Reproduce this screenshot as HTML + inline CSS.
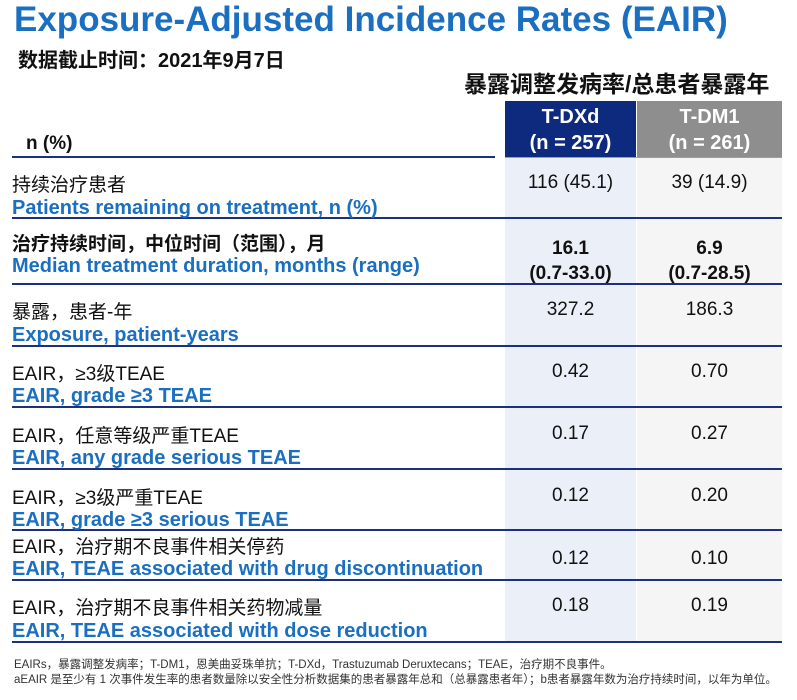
<!DOCTYPE html><html><head><meta charset="utf-8"><style>
body{margin:0;width:797px;height:700px;background:#fff;position:relative;overflow:hidden;font-family:"Liberation Sans","Noto Sans CJK SC",sans-serif}
.a{position:absolute;white-space:nowrap}
.cn{font-size:19px;color:#111}
.en{font-size:20px;color:#1a6fc0;font-weight:bold}
.v{font-size:19px;color:#111;text-align:center}
.ln{position:absolute;height:2px;background:#1c2f80}
</style></head><body>
<div class="a" style="left:14px;top:0px;font-size:35px;font-weight:bold;color:#1a6fc0">Exposure-Adjusted Incidence Rates (EAIR)</div>
<div class="a" style="left:18px;top:44px;font-size:20px;font-weight:bold;color:#111">数据截止时间：2021年9月7日</div>
<div class="a" style="left:464px;top:65px;font-size:23px;font-weight:bold;color:#111">暴露调整发病率/总患者暴露年</div>
<div class="a" style="left:505px;top:158px;width:131px;height:484px;background:#ebf0f8"></div>
<div class="a" style="left:637px;top:158px;width:145px;height:484px;background:#f5f5f5"></div>
<div class="a" style="left:505px;top:101px;width:131px;height:57px;background:#0e2a7e;color:#fff;font-weight:bold;font-size:20px;text-align:center;line-height:26px;padding-top:3px;box-sizing:border-box">T-DXd<br>(n = 257)</div>
<div class="a" style="left:637px;top:101px;width:145px;height:57px;background:#8e8e8e;color:#fff;font-weight:bold;font-size:20px;text-align:center;line-height:26px;padding-top:3px;box-sizing:border-box">T-DM1<br>(n = 261)</div>
<div class="a" style="left:26px;top:133px;font-size:19px;font-weight:bold;color:#111">n (%)</div>
<div class="ln" style="left:12px;width:483px;top:156px"></div>
<div class="ln" style="left:505px;width:277px;top:157px;height:1px;background:#8da0cc"></div>
<div class="ln" style="left:12px;width:770px;top:217px"></div>
<div class="ln" style="left:12px;width:770px;top:283px"></div>
<div class="ln" style="left:12px;width:770px;top:345px"></div>
<div class="ln" style="left:12px;width:770px;top:406px"></div>
<div class="ln" style="left:12px;width:770px;top:468px"></div>
<div class="ln" style="left:12px;width:770px;top:529px"></div>
<div class="ln" style="left:12px;width:770px;top:579px"></div>
<div class="ln" style="left:12px;width:770px;top:641px"></div>

<div class="a cn" style="left:12px;top:170px">持续治疗患者</div>
<div class="a en" style="left:12px;top:197px">Patients remaining on treatment, n (%)</div>
<div class="a v" style="left:505px;width:131px;top:172px">116 (45.1)</div>
<div class="a v" style="left:637px;width:145px;top:172px">39 (14.9)</div>

<div class="a cn" style="left:12px;top:229px;font-weight:bold">治疗持续时间，中位时间（范围），月</div>
<div class="a en" style="left:12px;top:255px">Median treatment duration, months (range)</div>
<div class="a v" style="left:505px;width:131px;top:236px;font-weight:bold;line-height:25px">16.1<br>(0.7-33.0)</div>
<div class="a v" style="left:637px;width:145px;top:236px;font-weight:bold;line-height:25px">6.9<br>(0.7-28.5)</div>

<div class="a cn" style="left:12px;top:297px">暴露，患者-年</div>
<div class="a en" style="left:12px;top:324px">Exposure, patient-years</div>
<div class="a v" style="left:505px;width:131px;top:299px">327.2</div>
<div class="a v" style="left:637px;width:145px;top:299px">186.3</div>

<div class="a cn" style="left:12px;top:359px">EAIR，≥3级TEAE</div>
<div class="a en" style="left:12px;top:385px">EAIR, grade ≥3 TEAE</div>
<div class="a v" style="left:505px;width:131px;top:361px">0.42</div>
<div class="a v" style="left:637px;width:145px;top:361px">0.70</div>

<div class="a cn" style="left:12px;top:421px">EAIR，任意等级严重TEAE</div>
<div class="a en" style="left:12px;top:447px">EAIR, any grade serious TEAE</div>
<div class="a v" style="left:505px;width:131px;top:423px">0.17</div>
<div class="a v" style="left:637px;width:145px;top:423px">0.27</div>

<div class="a cn" style="left:12px;top:483px">EAIR，≥3级严重TEAE</div>
<div class="a en" style="left:12px;top:509px">EAIR, grade ≥3 serious TEAE</div>
<div class="a v" style="left:505px;width:131px;top:485px">0.12</div>
<div class="a v" style="left:637px;width:145px;top:485px">0.20</div>

<div class="a cn" style="left:12px;top:532px">EAIR，治疗期不良事件相关停药</div>
<div class="a en" style="left:12px;top:558px">EAIR, TEAE associated with drug discontinuation</div>
<div class="a v" style="left:505px;width:131px;top:548px">0.12</div>
<div class="a v" style="left:637px;width:145px;top:548px">0.10</div>

<div class="a cn" style="left:12px;top:593px">EAIR，治疗期不良事件相关药物减量</div>
<div class="a en" style="left:12px;top:620px">EAIR, TEAE associated with dose reduction</div>
<div class="a v" style="left:505px;width:131px;top:595px">0.18</div>
<div class="a v" style="left:637px;width:145px;top:595px">0.19</div>

<div class="a" style="left:14px;top:656px;font-size:11.5px;color:#333">EAIRs，暴露调整发病率；T-DM1，恩美曲妥珠单抗；T-DXd，Trastuzumab Deruxtecans；TEAE，治疗期不良事件。</div>
<div class="a" style="left:14px;top:671px;font-size:11.5px;color:#333">aEAIR 是至少有 1 次事件发生率的患者数量除以安全性分析数据集的患者暴露年总和（总暴露患者年）；b患者暴露年数为治疗持续时间，以年为单位。</div>
</body></html>
